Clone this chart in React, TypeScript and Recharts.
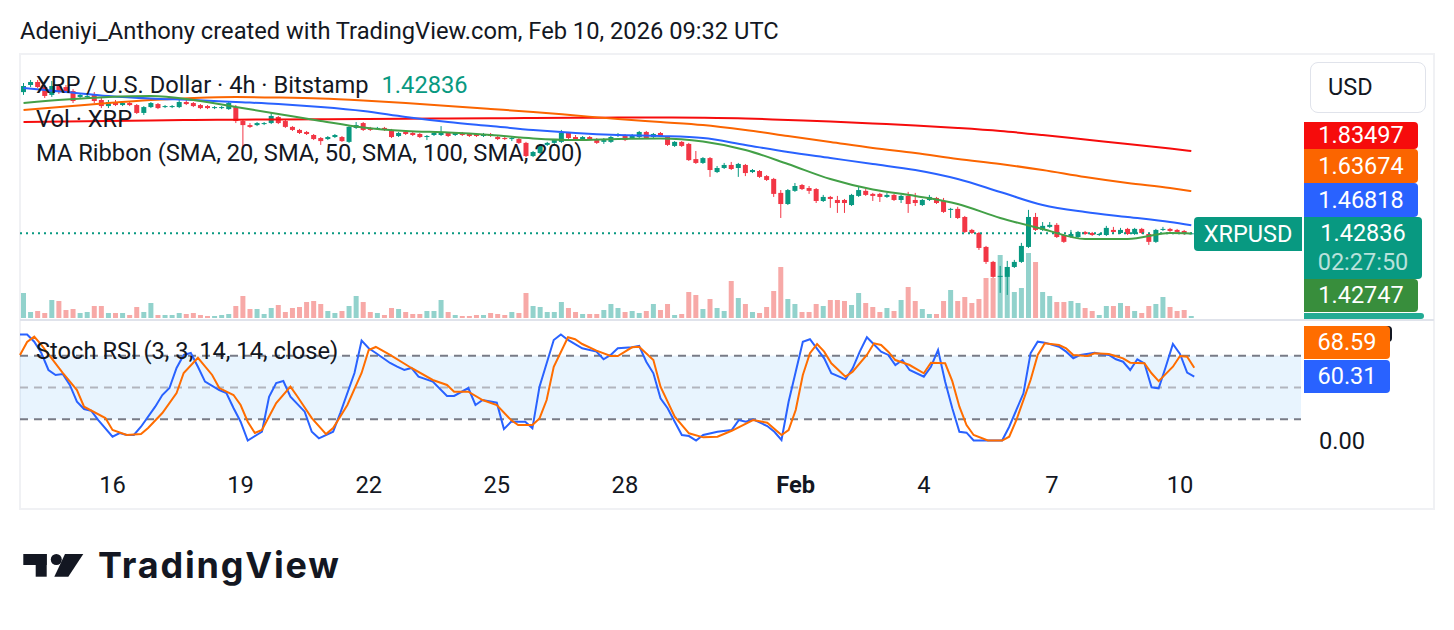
import React from 'react';
import { ComposedChart, Bar, Line, XAxis, YAxis, ReferenceLine, ReferenceArea, Cell } from 'recharts';

// XRP/USD 4h candles, Bitstamp – first visible candle is Jan 13 20:00 UTC
const START = Date.UTC(2026, 0, 13, 20);
const STEP = 4 * 3600 * 1000;
const FUTURE_SLOTS = 15; // empty right offset like TradingView

// [open, high, low, close]
const CANDLES: [number, number, number, number][] = [
  [2.126, 2.171, 2.112, 2.156], [2.161, 2.186, 2.151, 2.176], [2.176, 2.186, 2.146, 2.151], [2.151, 2.161, 2.097, 2.107],
  [2.112, 2.181, 2.102, 2.156], [2.156, 2.166, 2.117, 2.126], [2.151, 2.161, 2.122, 2.131], [2.131, 2.141, 2.072, 2.082],
  [2.102, 2.117, 2.092, 2.112], [2.102, 2.112, 2.097, 2.107], [2.112, 2.126, 2.072, 2.082], [2.087, 2.097, 2.047, 2.057],
  [2.057, 2.087, 2.047, 2.077], [2.077, 2.087, 2.057, 2.062], [2.062, 2.077, 2.057, 2.072], [2.072, 2.077, 2.057, 2.062],
  [2.062, 2.067, 2.018, 2.023], [2.023, 2.057, 2.013, 2.052], [2.052, 2.077, 2.047, 2.072], [2.067, 2.072, 2.042, 2.047],
  [2.052, 2.062, 2.047, 2.057], [2.052, 2.062, 2.047, 2.057], [2.052, 2.087, 2.047, 2.077], [2.077, 2.087, 2.062, 2.067],
  [2.072, 2.077, 2.052, 2.057], [2.062, 2.067, 2.042, 2.047], [2.057, 2.062, 2.042, 2.047], [2.047, 2.057, 2.042, 2.052],
  [2.047, 2.057, 2.042, 2.052], [2.042, 2.077, 2.038, 2.072], [2.052, 2.062, 1.973, 1.983], [1.983, 1.988, 1.850, 1.963],
  [1.963, 1.973, 1.949, 1.954], [1.963, 1.978, 1.958, 1.973], [1.968, 1.978, 1.963, 1.973], [1.973, 2.023, 1.968, 2.008],
  [2.003, 2.008, 1.968, 1.973], [1.983, 1.988, 1.949, 1.954], [1.954, 1.958, 1.934, 1.939], [1.939, 1.944, 1.919, 1.924],
  [1.929, 1.934, 1.914, 1.919], [1.914, 1.919, 1.889, 1.894], [1.899, 1.904, 1.865, 1.884], [1.894, 1.909, 1.889, 1.904],
  [1.904, 1.919, 1.899, 1.914], [1.904, 1.909, 1.880, 1.884], [1.880, 1.958, 1.875, 1.954], [1.949, 1.978, 1.944, 1.963],
  [1.973, 1.978, 1.934, 1.939], [1.949, 1.954, 1.934, 1.939], [1.944, 1.954, 1.939, 1.949], [1.949, 1.954, 1.934, 1.939],
  [1.939, 1.944, 1.899, 1.904], [1.909, 1.929, 1.904, 1.924], [1.929, 1.934, 1.914, 1.919], [1.924, 1.929, 1.909, 1.914],
  [1.919, 1.924, 1.899, 1.904], [1.904, 1.914, 1.889, 1.909], [1.914, 1.924, 1.909, 1.924], [1.914, 1.958, 1.909, 1.924],
  [1.924, 1.929, 1.904, 1.909], [1.914, 1.924, 1.909, 1.924], [1.924, 1.929, 1.909, 1.914], [1.919, 1.924, 1.904, 1.909],
  [1.919, 1.924, 1.904, 1.909], [1.909, 1.924, 1.904, 1.919], [1.919, 1.924, 1.904, 1.909], [1.904, 1.909, 1.889, 1.894],
  [1.899, 1.904, 1.889, 1.894], [1.894, 1.909, 1.884, 1.899], [1.894, 1.899, 1.870, 1.875], [1.875, 1.880, 1.805, 1.810],
  [1.810, 1.835, 1.805, 1.830], [1.825, 1.870, 1.820, 1.865], [1.865, 1.880, 1.860, 1.875], [1.875, 1.894, 1.870, 1.889],
  [1.880, 1.939, 1.875, 1.924], [1.924, 1.929, 1.894, 1.899], [1.904, 1.914, 1.889, 1.894], [1.894, 1.909, 1.889, 1.904],
  [1.904, 1.909, 1.889, 1.894], [1.894, 1.899, 1.870, 1.875], [1.880, 1.899, 1.870, 1.889], [1.880, 1.909, 1.875, 1.904],
  [1.909, 1.924, 1.904, 1.919], [1.909, 1.919, 1.884, 1.889], [1.899, 1.919, 1.894, 1.914], [1.904, 1.934, 1.899, 1.929],
  [1.929, 1.934, 1.894, 1.899], [1.904, 1.924, 1.899, 1.919], [1.924, 1.929, 1.904, 1.909], [1.904, 1.909, 1.860, 1.865],
  [1.860, 1.884, 1.855, 1.880], [1.880, 1.884, 1.855, 1.860], [1.870, 1.875, 1.786, 1.790], [1.795, 1.835, 1.771, 1.776],
  [1.776, 1.805, 1.771, 1.800], [1.800, 1.805, 1.707, 1.741], [1.731, 1.761, 1.726, 1.751], [1.751, 1.776, 1.746, 1.766],
  [1.766, 1.781, 1.741, 1.746], [1.751, 1.776, 1.707, 1.771], [1.766, 1.771, 1.711, 1.726], [1.731, 1.746, 1.726, 1.741],
  [1.736, 1.741, 1.702, 1.707], [1.711, 1.716, 1.687, 1.692], [1.697, 1.702, 1.608, 1.623], [1.628, 1.642, 1.504, 1.573],
  [1.573, 1.647, 1.568, 1.642], [1.638, 1.677, 1.633, 1.662], [1.667, 1.672, 1.642, 1.647], [1.652, 1.662, 1.623, 1.638],
  [1.647, 1.652, 1.578, 1.588], [1.588, 1.618, 1.583, 1.608], [1.608, 1.613, 1.554, 1.598], [1.593, 1.613, 1.529, 1.578],
  [1.593, 1.598, 1.529, 1.578], [1.568, 1.623, 1.563, 1.618], [1.613, 1.657, 1.608, 1.642], [1.638, 1.647, 1.613, 1.618],
  [1.623, 1.628, 1.588, 1.613], [1.623, 1.628, 1.583, 1.608], [1.608, 1.628, 1.603, 1.618], [1.618, 1.623, 1.588, 1.593],
  [1.593, 1.618, 1.578, 1.613], [1.613, 1.633, 1.529, 1.573], [1.593, 1.628, 1.563, 1.578], [1.568, 1.598, 1.563, 1.593],
  [1.593, 1.618, 1.588, 1.608], [1.603, 1.608, 1.573, 1.578], [1.588, 1.603, 1.529, 1.534], [1.544, 1.554, 1.504, 1.549],
  [1.549, 1.559, 1.499, 1.504], [1.509, 1.514, 1.430, 1.435], [1.445, 1.450, 1.425, 1.430], [1.430, 1.435, 1.346, 1.356],
  [1.361, 1.366, 1.277, 1.287], [1.287, 1.292, 1.208, 1.213], [1.213, 1.267, 1.134, 1.218], [1.213, 1.292, 1.124, 1.262],
  [1.262, 1.297, 1.257, 1.287], [1.287, 1.381, 1.282, 1.366], [1.361, 1.544, 1.356, 1.509], [1.509, 1.529, 1.440, 1.445],
  [1.445, 1.484, 1.440, 1.465], [1.460, 1.484, 1.455, 1.470], [1.470, 1.479, 1.405, 1.410], [1.420, 1.425, 1.381, 1.386],
  [1.410, 1.445, 1.405, 1.425], [1.410, 1.440, 1.405, 1.435], [1.435, 1.440, 1.420, 1.425], [1.430, 1.435, 1.415, 1.420],
  [1.420, 1.430, 1.415, 1.425], [1.420, 1.465, 1.415, 1.455], [1.445, 1.460, 1.430, 1.435], [1.430, 1.455, 1.425, 1.445],
  [1.450, 1.455, 1.420, 1.425], [1.425, 1.455, 1.420, 1.450], [1.450, 1.455, 1.425, 1.430], [1.425, 1.430, 1.371, 1.386],
  [1.386, 1.450, 1.381, 1.445], [1.445, 1.460, 1.440, 1.450], [1.450, 1.455, 1.435, 1.440], [1.445, 1.450, 1.430, 1.435],
  [1.440, 1.445, 1.420, 1.425], [1.4275, 1.433, 1.4245, 1.42836],
];

// volume, millions of XRP
const VOLUME = [
  25, 6, 7, 5, 18, 17, 8, 9, 5, 6, 12, 12, 5, 5, 5, 3, 11, 6, 15, 3,
  3, 3, 5, 4, 5, 3, 2, 2, 3, 4, 12, 22, 9, 9, 4, 10, 13, 6, 10, 11,
  16, 17, 14, 7, 5, 7, 12, 22, 16, 6, 5, 3, 10, 9, 6, 4, 4, 7, 7, 18,
  6, 3, 2, 2, 3, 3, 5, 4, 3, 6, 5, 25, 12, 11, 6, 6, 16, 10, 6, 4,
  4, 4, 8, 14, 10, 6, 7, 5, 7, 14, 8, 14, 3, 4, 26, 23, 9, 19, 10, 7,
  37, 20, 14, 6, 5, 11, 27, 51, 19, 14, 6, 6, 14, 12, 18, 18, 17, 13, 25, 15,
  11, 6, 10, 7, 18, 31, 17, 9, 4, 4, 17, 28, 17, 21, 15, 19, 40, 40, 63, 51,
  26, 30, 65, 56, 26, 22, 16, 16, 17, 15, 10, 7, 3, 12, 12, 15, 12, 7, 5, 12,
  14, 21, 11, 7, 8, 2,
];

// Stoch RSI (3, 3, 14, 14) – null where not read
const STOCH_K: (number | null)[] = [
  100, 100, 93.2, 82.5, 66.5, 61.8, 62.7, 52.4, 36.6, 29.7,
  28.1, 19.3, null, 3.6, 7.1, 5.2, 5.2, 13.0, null, 31.9,
  42.9, 49.5, 68.4, 80.7, 82.5, 69.6, 55.5, null, 47.6, 44.8,
  30.7, 17.7, 0, null, 8.3, 41.3, 54.2, 56.1, 41.3, null,
  27.2, 8.3, 2.1, null, 8.3, 25.9, null, 63.7, 94.2, 87,
  82.5, null, 73.1, 69.6, 66.5, 68.4, 60.2, null, 55.5, null,
  42, 42, null, 49.5, 33.5, 38.2, null, 35.7, 10.8, 17.7,
  null, 17.7, 11.5, 50.8, null, 94.8, 100, 94.8, null, 87,
  null, 83.8, 76.6, 80.7, 87, null, 87.9, 89.2, 74.3, 63.4,
  39.8, 30.4, 17.7, 5.2, 4.2, 0, 5.2, null, 8.3, null,
  9.9, 19.3, 17.7, 20, null, 13.7, 8.3, 0.5, 36.6, 64.9,
  93.2, 95.5, null, 77.5, 63.4, null, 57.7, 68.1, 83.8, 97.4,
  null, 83.8, 80.7, 71.2, 75.9, 66.5, null, 60.2, 69.6, 85.4,
  55.5, 30.4, 8.3, 7.4, 0, 0, 0, 0, 0, 13.0,
  null, 44.5, 82.3, 93.2, 92.3, null, 88.5, 83.8, 77.5, 80.7,
  null, 82.8, 81.3, 80.7, 76.6, 74.3, 66.5, 76.6, 72.8, 50.2,
  49.2, 69.6, 91, 81.6, 64, 60.31,
];
const STOCH_D: (number | null)[] = [
  80.7, 92.9, 97.9, 90.1, null, null, 63.7, null, 47.6, 31.9,
  null, null, 21.2, 9.9, null, 5.2, null, 6.1, 11.8, null,
  25.9, null, 44.8, 63.7, null, 78, null, 61.8, 49.5, null,
  42.9, 33.5, 17.7, 7.1, 9.9, null, 35.4, null, 50.8, 41.3,
  null, 21.2, null, 6.1, 11.8, null, 33.5, null, 63.7, 85.4,
  88.2, null, 80.7, null, null, 68.4, null, null, 57.1, null,
  52.4, 46, null, 46, null, 38.2, null, 33.5, null, 19.3,
  14.6, null, 14.6, 20.9, 38.2, 69.6, null, 97.4, 95.5, 91,
  null, 84.7, null, 79.7, 79.7, null, 87.9, 88.5, null, 75.9,
  50.8, null, 22.5, null, 6.8, null, 3, null, 3.6, null,
  9.2, null, null, 19.3, null, 16.8, null, 5.2, 9.9, 28.8,
  61.8, 82.3, 91, 83.8, 72.8, null, 60.2, 64.9, null, 80.7,
  91.7, 90.1, 83.8, 75.9, null, 71.2, null, 63.4, 73.4, null,
  72.8, 56, 31.9, 14.6, 5.2, null, 0, 0, 0, 3.6,
  19.3, null, 57.1, 80.7, 91.7, null, 90.1, 87, 80.7, null,
  79.7, 82.3, null, 81.6, null, 77.5, 73.4, null, 72.8, 63.4,
  56, null, 69.6, 79.7, 79.1, 68.59,
];

// MA Ribbon, read once per day (candle index)
const MA_IDX = [0, 6, 12, 18, 24, 30, 36, 42, 48, 54, 60, 66, 72, 78, 84, 90, 96, 102, 108, 114, 120, 126, 132, 138, 144, 150, 156, 162, 165];
const SMA20 = [2.0721, 2.0894, 2.1018, 2.1067, 2.0869, 2.0524, 2.0178, 1.9832, 1.9511, 1.9338, 1.9264, 1.914, 1.8967, 1.8893, 1.8943, 1.8967, 1.8819, 1.8399, 1.7708, 1.6966, 1.6447, 1.6126, 1.5731, 1.5039, 1.4496, 1.4002, 1.4002, 1.4298, 1.42747];
const SMA50 = [2.1462, 2.1265, 2.1067, 2.0944, 2.0869, 2.0771, 2.0672, 2.0524, 2.0326, 2.003, 1.9783, 1.9585, 1.9387, 1.9239, 1.914, 1.9091, 1.8992, 1.8646, 1.83, 1.8004, 1.7707, 1.7411, 1.6966, 1.6324, 1.5682, 1.5336, 1.5089, 1.4842, 1.46818];
const SMA100 = [2.0375, 2.0548, 2.0721, 2.0869, 2.0968, 2.1018, 2.0993, 2.0944, 2.0845, 2.0721, 2.0573, 2.0425, 2.0277, 2.0104, 1.9931, 1.9783, 1.9634, 1.9387, 1.9091, 1.8795, 1.8498, 1.8251, 1.7955, 1.7707, 1.7411, 1.7065, 1.6769, 1.6521, 1.63674];
const SMA200 = [1.9783, 1.9807, 1.9832, 1.9857, 1.9882, 1.9896, 1.9906, 1.9916, 1.9931, 1.9946, 1.9956, 1.9966, 1.998, 1.999, 2.0, 2.0005, 1.999, 1.9956, 1.9882, 1.9807, 1.9709, 1.961, 1.9486, 1.9338, 1.914, 1.8918, 1.8696, 1.8473, 1.83497];

const TICK_IDX = [13, 31, 49, 67, 85, 109, 127, 145, 163];
const TICK_LABELS = ['16', '19', '22', '25', '28', 'Feb', '4', '7', '10'];

const LAST_PRICE = 1.42836;

const UP = '#089981';
const DOWN = '#F23645';
const INK = '#131722';
const FONT = 'Roboto, sans-serif';
const FS = 23.7;

const keyOf = (i: number) => {
  const d = new Date(START + i * STEP);
  return `${d.getUTCMonth() + 1}/${d.getUTCDate()} ${d.getUTCHours()}h`;
};

const rows = Array.from({ length: CANDLES.length + FUTURE_SLOTS }, (_, i) => {
  const c = CANDLES[i];
  const m = MA_IDX.indexOf(i);
  return {
    t: keyOf(i),
    open: c ? c[0] : null,
    high: c ? c[1] : null,
    low: c ? c[2] : null,
    close: c ? c[3] : null,
    range: c ? [c[2], c[1]] : null,
    vol: i < VOLUME.length ? VOLUME[i] : null,
    k: i < STOCH_K.length ? STOCH_K[i] : null,
    d: i < STOCH_D.length ? STOCH_D[i] : null,
    ma20: m >= 0 ? SMA20[m] : null,
    ma50: m >= 0 ? SMA50[m] : null,
    ma100: m >= 0 ? SMA100[m] : null,
    ma200: m >= 0 ? SMA200[m] : null,
  };
});

const tickKeys = TICK_IDX.map((i) => rows[i].t);
const tickText: Record<string, string> = {};
TICK_IDX.forEach((i, n) => { tickText[rows[i].t] = TICK_LABELS[n]; });

const CHART_W = 1302;
const MARGIN = { top: 0, right: 1, bottom: 0, left: 20 };

const Candle = (props: any) => {
  const { x, y, width, height, payload } = props;
  if (!payload || payload.open == null) return <g />;
  const { open, close, high, low } = payload;
  const color = close >= open ? UP : DOWN;
  const span = high - low || 1e-9;
  const yOf = (v: number) => y + ((high - v) / span) * height;
  const top = yOf(Math.max(open, close));
  const bot = yOf(Math.min(open, close));
  const cx = x + width / 2;
  return (
    <g>
      <line x1={cx} x2={cx} y1={y} y2={y + height} stroke={color} strokeWidth={1} />
      <rect x={x} y={top} width={width} height={Math.max(1, bot - top)} fill={color} />
    </g>
  );
};

const DateTick = (props: any) => {
  const { x, y, payload } = props;
  const label = tickText[payload.value] ?? '';
  return (
    <text x={x} y={y + 30} textAnchor="middle" fontSize={FS} fontFamily={FONT}
      fontWeight={label === 'Feb' ? 700 : 400} fill={INK}>
      {label}
    </text>
  );
};

const Txt = ({ x, cy, size = FS, color = INK, children }: any) => (
  <div style={{ position: 'absolute', left: x, top: cy - 15, height: 30, lineHeight: '30px', fontSize: size, color, whiteSpace: 'nowrap' }}>
    {children}
  </div>
);

const Tag = ({ left, top, width, height, bg, radius = '0 4px 4px 0', children }: any) => (
  <div style={{
    position: 'absolute', left, top, width, height, background: bg, borderRadius: radius, color: '#fff',
    fontSize: 23.5, display: 'flex', flexDirection: 'column', alignItems: 'center', justifyContent: 'center', lineHeight: '29px',
  }}>
    {children}
  </div>
);

const App: React.FC = () => {
  return (
    <div style={{ position: 'absolute', left: 0, top: 0, width: 1454, height: 630, background: '#fff', fontFamily: FONT, overflow: 'hidden' }}>
      <Txt x={20} cy={31}>Adeniyi_Anthony created with TradingView.com, Feb 10, 2026 09:32 UTC</Txt>

      {/* chart frame */}
      <div style={{ position: 'absolute', left: 19, top: 53, width: 1416, height: 457, border: '2px solid #F0F1F4', boxSizing: 'border-box' }} />

      {/* volume layer */}
      <div style={{ position: 'absolute', left: 0, top: 55 }}>
        <ComposedChart width={CHART_W} height={264} data={rows} margin={MARGIN}>
          <XAxis dataKey="t" hide />
          <YAxis hide domain={[-1, 263]} allowDataOverflow />
          <Bar dataKey="vol" barSize={5} isAnimationActive={false}>
            {rows.map((r, i) => (
              <Cell key={i} fill={r.close != null && r.close >= (r.open as number) ? '#92D2CC' : '#F7A9A7'} />
            ))}
          </Bar>
        </ComposedChart>
      </div>

      {/* price layer */}
      <div style={{ position: 'absolute', left: 0, top: 55 }}>
        <ComposedChart width={CHART_W} height={264} data={rows} margin={MARGIN}>
          <XAxis dataKey="t" hide />
          <YAxis hide domain={[1.0049, 2.3093]} allowDataOverflow />
          <ReferenceLine y={LAST_PRICE} stroke={UP} strokeWidth={2} strokeDasharray="2 4" />
          <Bar dataKey="range" barSize={5} shape={<Candle />} isAnimationActive={false} />
          <Line dataKey="ma200" type="monotone" stroke="#F60C0C" strokeWidth={2} dot={false} connectNulls isAnimationActive={false} />
          <Line dataKey="ma100" type="monotone" stroke="#FB6500" strokeWidth={2} dot={false} connectNulls isAnimationActive={false} />
          <Line dataKey="ma50" type="monotone" stroke="#2962FF" strokeWidth={2} dot={false} connectNulls isAnimationActive={false} />
          <Line dataKey="ma20" type="monotone" stroke="#43A047" strokeWidth={2} dot={false} connectNulls isAnimationActive={false} />
        </ComposedChart>
      </div>

      {/* pane separator */}
      <div style={{ position: 'absolute', left: 20, top: 319, width: 1414, height: 2, background: '#E0E3EB' }} />

      {/* Stoch RSI pane + time axis */}
      <div style={{ position: 'absolute', left: 0, top: 321 }}>
        <ComposedChart width={CHART_W} height={180} data={rows} margin={MARGIN}>
          <XAxis dataKey="t" ticks={tickKeys} interval={0} axisLine={false} tickLine={false} tickSize={0} height={40} tick={<DateTick />} />
          <YAxis hide domain={[-19.3, 112.7]} allowDataOverflow />
          <ReferenceArea y1={20} y2={80} fill="rgba(33,150,243,0.1)" fillOpacity={1} stroke="none" />
          <ReferenceLine y={80} stroke="#787B86" strokeWidth={2} strokeDasharray="8 6" />
          <ReferenceLine y={50} stroke="#B2B5BE" strokeWidth={2} strokeDasharray="8 6" />
          <ReferenceLine y={20} stroke="#787B86" strokeWidth={2} strokeDasharray="8 6" />
          <Line dataKey="k" type="linear" stroke="#2962FF" strokeWidth={2} dot={false} connectNulls isAnimationActive={false} />
          <Line dataKey="d" type="linear" stroke="#FF6D00" strokeWidth={2} dot={false} connectNulls isAnimationActive={false} />
        </ComposedChart>
      </div>

      {/* legends */}
      <Txt x={36} cy={85}>XRP / U.S. Dollar · 4h · Bitstamp <span style={{ color: UP, marginLeft: 7 }}>1.42836</span></Txt>
      <Txt x={36} cy={119}>Vol · XRP</Txt>
      <Txt x={36} cy={153}>MA Ribbon (SMA, 20, SMA, 50, SMA, 100, SMA, 200)</Txt>
      <Txt x={36} cy={351}>Stoch RSI (3, 3, 14, 14, close)</Txt>

      {/* price scale */}
      <div style={{ position: 'absolute', left: 1310, top: 62, width: 116, height: 51, border: '1px solid #E0E3EB', borderRadius: 8, boxSizing: 'border-box', fontSize: 23.5, lineHeight: '49px', paddingLeft: 17, color: INK }}>USD</div>
      <Tag left={1304} top={122} width={114} height={27} bg="#F60C0C">1.83497</Tag>
      <Tag left={1304} top={149} width={114} height={34} bg="#FB6500">1.63674</Tag>
      <Tag left={1304} top={183} width={114} height={34} bg="#2962FF">1.46818</Tag>
      <Tag left={1304} top={313} width={120} height={6} bg="#22AB94"> </Tag>
      <Tag left={1304} top={279} width={114} height={33} bg="#388E3C">1.42747</Tag>
      <Tag left={1304} top={217} width={118} height={62} bg={UP}>
        <span>1.42836</span>
        <span style={{ color: 'rgba(255,255,255,0.72)' }}>02:27:50</span>
      </Tag>
      <Tag left={1194} top={217} width={108} height={34} bg={UP} radius="4px 0 0 4px">XRPUSD</Tag>

      {/* stoch scale */}
      <div style={{ position: 'absolute', left: 1306, top: 326, width: 86, height: 16, background: INK, borderRadius: 4 }} />
      <Tag left={1304} top={326} width={86} height={33} bg="#FF6D00">68.59</Tag>
      <Tag left={1304} top={360} width={86} height={33} bg="#2962FF">60.31</Tag>
      <Txt x={1319} cy={441}>0.00</Txt>

      {/* TradingView logo */}
      <svg width={360} height={60} style={{ position: 'absolute', left: 0, top: 540 }}>
        <rect x={23.3} y={14} width={23.4} height={11} fill={INK} />
        <rect x={35.7} y={14} width={11} height={22.7} fill={INK} />
        <circle cx={56.3} cy={19.5} r={5.5} fill={INK} />
        <polygon points="65,14 83.3,14 68.3,36.7 54.3,36.7" fill={INK} />
        <text x={98} y={38} fontSize={36} fontWeight={700} fontFamily="Inter, Roboto, sans-serif" fill={INK} letterSpacing={1.8}>TradingView</text>
      </svg>
    </div>
  );
};

export default App;
